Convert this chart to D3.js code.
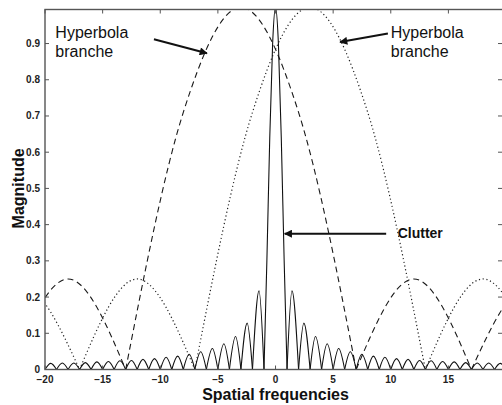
<!DOCTYPE html>
<html>
<head>
<meta charset="utf-8">
<script src="https://cdn.jsdelivr.net/npm/d3@7"></script>
<style>
  body { margin: 0; background: #fff; }
  text { font-family: "Liberation Sans", Arial, sans-serif; }
</style>
</head>
<body>
<div id="chart"></div>
<script>
// Tick values
const xTicks = [-20, -15, -10, -5, 0, 5, 10, 15];
const yTicks = [0, 0.1, 0.2, 0.3, 0.4, 0.5, 0.6, 0.7, 0.8, 0.9];

// Dashed curve (left hyperbola branch): zeros and lobe tops
const dashedX = [-23, -18, -13, -8, -3, 2, 7, 12, 17, 22, 27];
const dashedY = [0, 0.25, 0, 0.71, 1.0, 0.71, 0, 0.25, 0, 0.23, 0];

// Dotted curve (right hyperbola branch)
const dottedX = [-27, -22, -17, -12, -7, -2, 3, 8, 13, 18, 23];
const dottedY = [0, 0.23, 0, 0.25, 0, 0.71, 1.0, 0.71, 0, 0.25, 0];

// Solid curve (clutter): main lobe samples
const clutterMainX = [-1, -0.75, -0.5, -0.25, 0, 0.25, 0.5, 0.75, 1];
const clutterMainY = [0, 0.30, 0.64, 0.90, 1.0, 0.90, 0.64, 0.30, 0];
// side lobe tops, lobe k spans |x| = k..k+1 (k = 1..19), same on both sides
const clutterSideX = [1.43, 2.46, 3.47, 4.48, 5.48, 6.49, 7.49, 8.49, 9.49, 10.5,
                      11.5, 12.5, 13.5, 14.5, 15.5, 16.5, 17.5, 18.5, 19.5];
const clutterSideY = [0.217, 0.128, 0.091, 0.071, 0.058, 0.049, 0.042, 0.037, 0.034, 0.030,
                      0.028, 0.025, 0.024, 0.022, 0.021, 0.019, 0.018, 0.018, 0.017];

const margin = { top: 9.5, right: 0, bottom: 35.5, left: 45 },
      fullW = 502, fullH = 405,
      width = fullW - margin.left - margin.right,
      height = fullH - margin.top - margin.bottom;

const svg = d3.select("#chart")
    .append("svg")
    .attr("width", fullW)
    .attr("height", fullH)
    .append("g")
    .attr("transform", `translate(${margin.left},${margin.top})`);

const x = d3.scaleLinear().domain([-20, 19.65]).range([0, width]);
const y = d3.scaleLinear().domain([0, 0.994]).range([height, 0]);

svg.append("clipPath").attr("id", "plotclip")
    .append("rect").attr("width", width).attr("height", height);

// split a series into lobes, each running from one zero to the next
function toLobes(xs, ys) {
    const out = [];
    let cur = null;
    xs.forEach((xv, i) => {
        const p = [xv, ys[i]];
        if (ys[i] === 0) {
            if (cur) { cur.push(p); out.push(cur); }
            cur = [p];
        } else if (cur) {
            cur.push(p);
        }
    });
    return out;
}

const dashedLobes = toLobes(dashedX, dashedY);
const dottedLobes = toLobes(dottedX, dottedY);

const clutterLobes = [clutterMainX.map((v, i) => [v, clutterMainY[i]])];
clutterSideX.forEach((px, i) => {
    const k = i + 1;
    clutterLobes.push([[k, 0], [px, clutterSideY[i]], [k + 1, 0]]);
    clutterLobes.push([[-k - 1, 0], [-px, clutterSideY[i]], [-k, 0]]);
});

const line = d3.line()
    .x(d => x(d[0]))
    .y(d => y(d[1]))
    .curve(d3.curveMonotoneX);

const plot = svg.append("g").attr("clip-path", "url(#plotclip)");

plot.selectAll(".dashed")
    .data(dashedLobes)
    .enter().append("path")
    .attr("d", line)
    .attr("fill", "none")
    .attr("stroke", "#1a1a1a")
    .attr("stroke-width", 1.1)
    .attr("stroke-dasharray", "6,4");

plot.selectAll(".dotted")
    .data(dottedLobes)
    .enter().append("path")
    .attr("d", line)
    .attr("fill", "none")
    .attr("stroke", "#222")
    .attr("stroke-width", 1.2)
    .attr("stroke-dasharray", "1.2,2.6");

plot.selectAll(".clutter")
    .data(clutterLobes)
    .enter().append("path")
    .attr("d", line)
    .attr("fill", "none")
    .attr("stroke", "#111")
    .attr("stroke-width", 1.1);

// Frame and ticks
const frameColor = "#555";
svg.append("rect")
    .attr("width", width + 2)
    .attr("height", height)
    .attr("fill", "none")
    .attr("stroke", frameColor)
    .attr("stroke-width", 1.4);

xTicks.forEach(t => {
    svg.append("line").attr("x1", x(t)).attr("x2", x(t))
        .attr("y1", height).attr("y2", height - 4)
        .attr("stroke", frameColor).attr("stroke-width", 1);
    svg.append("line").attr("x1", x(t)).attr("x2", x(t))
        .attr("y1", 0).attr("y2", 4)
        .attr("stroke", frameColor).attr("stroke-width", 1);
    svg.append("text")
        .attr("x", x(t))
        .attr("y", height + 13.5)
        .attr("text-anchor", "middle")
        .style("font-size", "10px")
        .style("font-weight", "bold")
        .attr("fill", "#222")
        .text(d3.format("")(t));
});

yTicks.forEach(t => {
    svg.append("line").attr("x1", 0).attr("x2", 4)
        .attr("y1", y(t)).attr("y2", y(t))
        .attr("stroke", frameColor).attr("stroke-width", 1);
    svg.append("line").attr("x1", width - 4).attr("x2", width)
        .attr("y1", y(t)).attr("y2", y(t))
        .attr("stroke", frameColor).attr("stroke-width", 1);
    svg.append("text")
        .attr("x", -5)
        .attr("y", y(t) + 3.5)
        .attr("text-anchor", "end")
        .style("font-size", "10px")
        .style("font-weight", "bold")
        .attr("fill", "#222")
        .text(t);
});

// Axis titles
svg.append("text")
    .attr("x", x(0))
    .attr("y", height + 30.2)
    .attr("text-anchor", "middle")
    .style("font-size", "16px")
    .style("font-weight", "bold")
    .attr("fill", "#111")
    .text("Spatial frequencies");

svg.append("text")
    .attr("transform", "rotate(-90)")
    .attr("x", -(y(0.5)))
    .attr("y", -margin.left + 24)
    .attr("text-anchor", "middle")
    .style("font-size", "16px")
    .style("font-weight", "bold")
    .attr("fill", "#111")
    .text("Magnitude");

// Annotations (data coordinates)
const defs = svg.append("defs");
defs.append("marker")
    .attr("id", "head")
    .attr("viewBox", "0 0 10 10")
    .attr("refX", 9).attr("refY", 5)
    .attr("markerWidth", 5.5).attr("markerHeight", 4)
    .attr("markerUnits", "strokeWidth")
    .attr("orient", "auto")
    .append("path").attr("d", "M0,0L10,5L0,10z").attr("fill", "#111");

const arrows = [
    { from: [-10.55, 0.912], to: [-5.95, 0.873] },
    { from: [9.75, 0.928], to: [5.6, 0.904] },
    { from: [9.6, 0.375], to: [0.8, 0.375] }
];
arrows.forEach(a => {
    svg.append("line")
        .attr("x1", x(a.from[0])).attr("y1", y(a.from[1]))
        .attr("x2", x(a.to[0])).attr("y2", y(a.to[1]))
        .attr("stroke", "#111")
        .attr("stroke-width", 2)
        .attr("marker-end", "url(#head)");
});

const labels = [
    { lines: ["Hyperbola", "branche"], at: [-19.1, 0.915], size: 16, weight: "normal" },
    { lines: ["Hyperbola", "branche"], at: [10.0, 0.915], size: 16, weight: "normal" },
    { lines: ["Clutter"], at: [10.6, 0.362], size: 14, weight: "bold" }
];
labels.forEach(l => {
    const t = svg.append("text")
        .attr("x", x(l.at[0]))
        .attr("y", y(l.at[1]))
        .style("font-size", l.size + "px")
        .style("font-weight", l.weight)
        .attr("fill", "#111");
    l.lines.forEach((s, i) => {
        t.append("tspan")
            .attr("x", x(l.at[0]))
            .attr("dy", i === 0 ? 0 : 19)
            .text(s);
    });
});
</script>
</body>
</html>
